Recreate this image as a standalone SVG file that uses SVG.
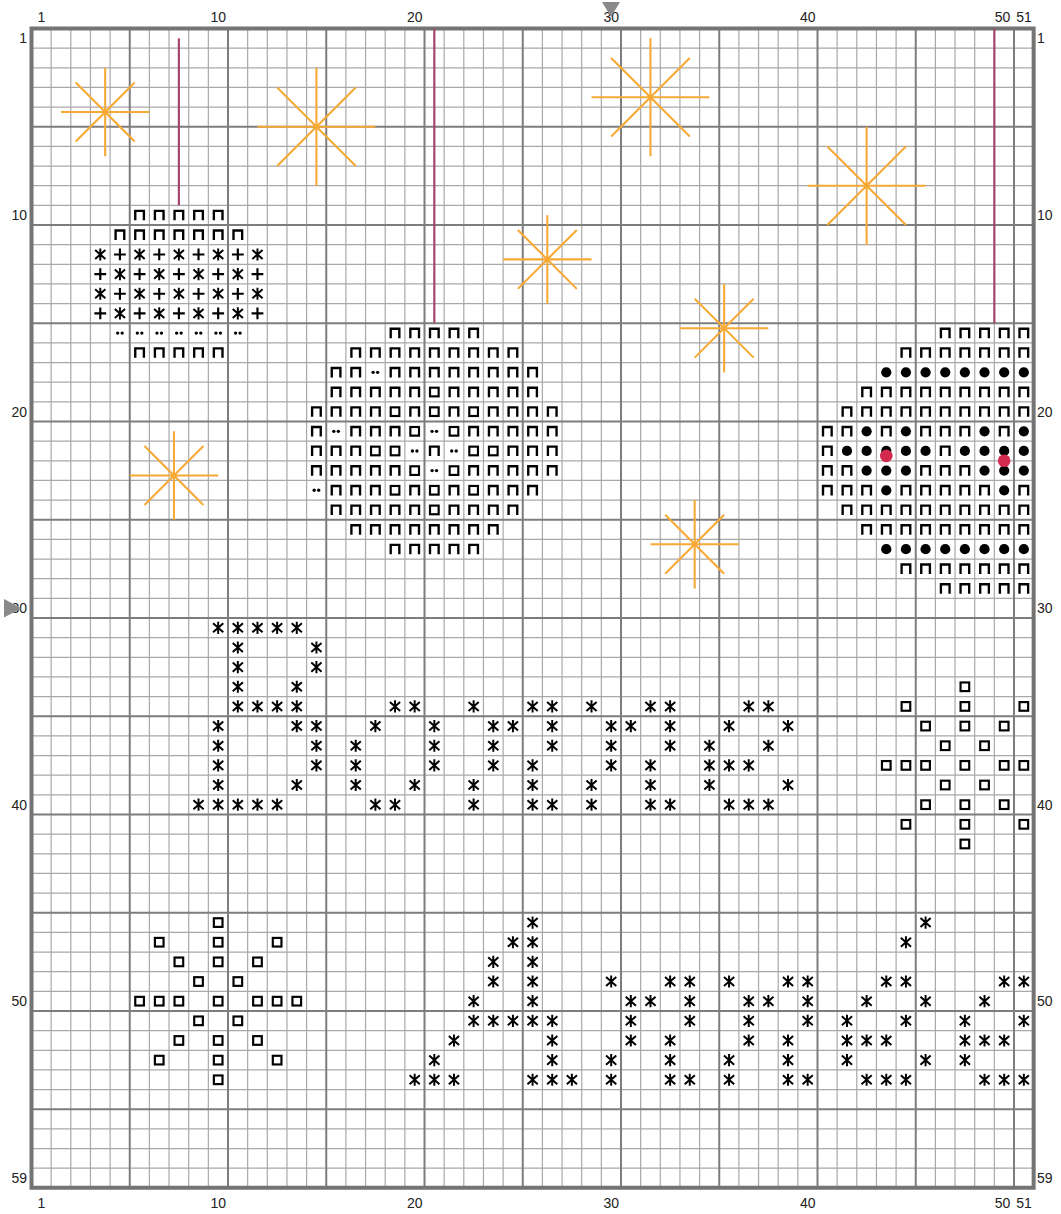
<svg xmlns="http://www.w3.org/2000/svg" xmlns:xlink="http://www.w3.org/1999/xlink" width="1061" height="1214" viewBox="0 0 1061 1214">
<style>
.lbl{font-family:"Liberation Sans",Arial,sans-serif;font-size:14px;fill:#222}
.mn{stroke:#a9a9a9;stroke-width:1.2;fill:none}
.mj{stroke:#7d7d7d;stroke-width:2;fill:none}
.bd{stroke:#747474;stroke-width:4;fill:none}
.st{stroke:#f7a935;stroke-width:0.105;fill:none}
.bs{stroke:#a3446f;stroke-width:0.11;fill:none}
.tri{fill:#8a8a8a}
</style>
<defs>
<path id="q" d="M0.28 0.76V0.28H0.72V0.76" fill="none" stroke="#000" stroke-width="0.12"/>
<rect id="b" x="0.28" y="0.28" width="0.44" height="0.44" fill="none" stroke="#000" stroke-width="0.11"/>
<path id="a" d="M0.5 0.19V0.81M0.24 0.27L0.76 0.73M0.24 0.73L0.76 0.27" fill="none" stroke="#000" stroke-width="0.1"/>
<path id="p" d="M0.2 0.5H0.8M0.5 0.2V0.8" fill="none" stroke="#000" stroke-width="0.11"/>
<g id="d" fill="#000"><circle cx="0.385" cy="0.5" r="0.085"/><circle cx="0.615" cy="0.5" r="0.085"/></g>
<circle id="k" cx="0.5" cy="0.5" r="0.26" fill="#000"/>
<path id="SB" d="M0 -3V3M-3 0H3M-2 -2L2 2M-2 2L2 -2"/>
<path id="SS" d="M0 -2.25V2.25M-2.25 0H2.25M-1.5 -1.5L1.5 1.5M-1.5 1.5L1.5 -1.5"/>
</defs>
<rect width="1061" height="1214" fill="#fff"/>
<g id="labels" class="lbl">
<g text-anchor="middle">
<text x="41.3" y="22">1</text><text x="218.2" y="22">10</text><text x="414.7" y="22">20</text><text x="611.2" y="22">30</text><text x="807.7" y="22">40</text><text x="1002.5" y="22">50</text><text x="1024" y="22">51</text>
<text x="41.3" y="1208">1</text><text x="218.2" y="1208">10</text><text x="414.7" y="1208">20</text><text x="611.2" y="1208">30</text><text x="807.7" y="1208">40</text><text x="1002.5" y="1208">50</text><text x="1024" y="1208">51</text>
</g>
<g text-anchor="end">
<text x="27" y="43.3">1</text><text x="27" y="220.2">10</text><text x="27" y="416.7">20</text><text x="27" y="613.2">30</text><text x="27" y="809.7">40</text><text x="27" y="1006.2">50</text><text x="27" y="1182.9">59</text>
</g>
<g text-anchor="start">
<text x="1037" y="43.3">1</text><text x="1037" y="220.2">10</text><text x="1037" y="416.7">20</text><text x="1037" y="613.2">30</text><text x="1037" y="809.7">40</text><text x="1037" y="1006.2">50</text><text x="1037" y="1182.9">59</text>
</g>
</g>
<g id="chart" transform="translate(11.85 8.85) scale(19.65)">
<g id="grid">
<path class="mn" vector-effect="non-scaling-stroke" d="M2 1V60M3 1V60M4 1V60M5 1V60M7 1V60M8 1V60M9 1V60M10 1V60M12 1V60M13 1V60M14 1V60M15 1V60M17 1V60M18 1V60M19 1V60M20 1V60M22 1V60M23 1V60M24 1V60M25 1V60M27 1V60M28 1V60M29 1V60M30 1V60M32 1V60M33 1V60M34 1V60M35 1V60M37 1V60M38 1V60M39 1V60M40 1V60M42 1V60M43 1V60M44 1V60M45 1V60M47 1V60M48 1V60M49 1V60M50 1V60"/>
<path class="mn" vector-effect="non-scaling-stroke" d="M1 2H52M1 3H52M1 4H52M1 5H52M1 7H52M1 8H52M1 9H52M1 10H52M1 12H52M1 13H52M1 14H52M1 15H52M1 17H52M1 18H52M1 19H52M1 20H52M1 22H52M1 23H52M1 24H52M1 25H52M1 27H52M1 28H52M1 29H52M1 30H52M1 32H52M1 33H52M1 34H52M1 35H52M1 37H52M1 38H52M1 39H52M1 40H52M1 42H52M1 43H52M1 44H52M1 45H52M1 47H52M1 48H52M1 49H52M1 50H52M1 52H52M1 53H52M1 54H52M1 55H52M1 57H52M1 58H52M1 59H52"/>
<path class="mj" vector-effect="non-scaling-stroke" d="M6 1V60M11 1V60M16 1V60M21 1V60M26 1V60M31 1V60M36 1V60M41 1V60M46 1V60M51 1V60M1 6H52M1 11H52M1 16H52M1 21H52M1 26H52M1 31H52M1 36H52M1 41H52M1 46H52M1 51H52M1 56H52"/>
<rect class="bd" vector-effect="non-scaling-stroke" x="1" y="1" width="51" height="59"/>
</g>
<g id="backstitch" class="bs">
<path d="M8.5 1.5V10"/>
<path d="M21.5 1V16"/>
<path d="M50 1V16"/>
</g>
<g id="stars" class="st">
<use href="#SS" x="4.75" y="5.25"/>
<use href="#SB" x="15.5" y="6"/>
<use href="#SB" x="32.5" y="4.5"/>
<use href="#SS" x="27.25" y="12.75"/>
<use href="#SS" x="36.25" y="16.25"/>
<use href="#SB" x="43.5" y="9"/>
<use href="#SS" x="8.25" y="23.75"/>
<use href="#SS" x="34.75" y="27.25"/>
</g>
<g id="block-left">
<use href="#q" x="6" y="10"/><use href="#q" x="7" y="10"/><use href="#q" x="8" y="10"/><use href="#q" x="9" y="10"/><use href="#q" x="10" y="10"/>
<use href="#q" x="5" y="11"/><use href="#q" x="6" y="11"/><use href="#q" x="7" y="11"/><use href="#q" x="8" y="11"/><use href="#q" x="9" y="11"/><use href="#q" x="10" y="11"/><use href="#q" x="11" y="11"/>
<use href="#a" x="4" y="12"/><use href="#p" x="5" y="12"/><use href="#a" x="6" y="12"/><use href="#p" x="7" y="12"/><use href="#a" x="8" y="12"/><use href="#p" x="9" y="12"/><use href="#a" x="10" y="12"/><use href="#p" x="11" y="12"/><use href="#a" x="12" y="12"/>
<use href="#p" x="4" y="13"/><use href="#a" x="5" y="13"/><use href="#p" x="6" y="13"/><use href="#a" x="7" y="13"/><use href="#p" x="8" y="13"/><use href="#a" x="9" y="13"/><use href="#p" x="10" y="13"/><use href="#a" x="11" y="13"/><use href="#p" x="12" y="13"/>
<use href="#a" x="4" y="14"/><use href="#p" x="5" y="14"/><use href="#a" x="6" y="14"/><use href="#p" x="7" y="14"/><use href="#a" x="8" y="14"/><use href="#p" x="9" y="14"/><use href="#a" x="10" y="14"/><use href="#p" x="11" y="14"/><use href="#a" x="12" y="14"/>
<use href="#p" x="4" y="15"/><use href="#a" x="5" y="15"/><use href="#p" x="6" y="15"/><use href="#a" x="7" y="15"/><use href="#p" x="8" y="15"/><use href="#a" x="9" y="15"/><use href="#p" x="10" y="15"/><use href="#a" x="11" y="15"/><use href="#p" x="12" y="15"/>
<use href="#d" x="5" y="16"/><use href="#d" x="6" y="16"/><use href="#d" x="7" y="16"/><use href="#d" x="8" y="16"/><use href="#d" x="9" y="16"/><use href="#d" x="10" y="16"/><use href="#d" x="11" y="16"/>
<use href="#q" x="6" y="17"/><use href="#q" x="7" y="17"/><use href="#q" x="8" y="17"/><use href="#q" x="9" y="17"/><use href="#q" x="10" y="17"/>
</g>
<g id="block-center">
<use href="#q" x="19" y="16"/><use href="#q" x="20" y="16"/><use href="#q" x="21" y="16"/><use href="#q" x="22" y="16"/><use href="#q" x="23" y="16"/>
<use href="#q" x="17" y="17"/><use href="#q" x="18" y="17"/><use href="#q" x="19" y="17"/><use href="#q" x="20" y="17"/><use href="#q" x="21" y="17"/><use href="#q" x="22" y="17"/><use href="#q" x="23" y="17"/><use href="#q" x="24" y="17"/><use href="#q" x="25" y="17"/>
<use href="#q" x="16" y="18"/><use href="#q" x="17" y="18"/><use href="#d" x="18" y="18"/><use href="#q" x="19" y="18"/><use href="#q" x="20" y="18"/><use href="#q" x="21" y="18"/><use href="#q" x="22" y="18"/><use href="#q" x="23" y="18"/><use href="#q" x="24" y="18"/><use href="#q" x="25" y="18"/><use href="#q" x="26" y="18"/>
<use href="#q" x="16" y="19"/><use href="#q" x="17" y="19"/><use href="#q" x="18" y="19"/><use href="#q" x="19" y="19"/><use href="#q" x="20" y="19"/><use href="#b" x="21" y="19"/><use href="#q" x="22" y="19"/><use href="#q" x="23" y="19"/><use href="#q" x="24" y="19"/><use href="#q" x="25" y="19"/><use href="#q" x="26" y="19"/>
<use href="#q" x="15" y="20"/><use href="#q" x="16" y="20"/><use href="#q" x="17" y="20"/><use href="#q" x="18" y="20"/><use href="#b" x="19" y="20"/><use href="#q" x="20" y="20"/><use href="#b" x="21" y="20"/><use href="#q" x="22" y="20"/><use href="#b" x="23" y="20"/><use href="#q" x="24" y="20"/><use href="#q" x="25" y="20"/><use href="#q" x="26" y="20"/><use href="#q" x="27" y="20"/>
<use href="#q" x="15" y="21"/><use href="#d" x="16" y="21"/><use href="#q" x="17" y="21"/><use href="#q" x="18" y="21"/><use href="#q" x="19" y="21"/><use href="#b" x="20" y="21"/><use href="#d" x="21" y="21"/><use href="#b" x="22" y="21"/><use href="#q" x="23" y="21"/><use href="#q" x="24" y="21"/><use href="#q" x="25" y="21"/><use href="#q" x="26" y="21"/><use href="#q" x="27" y="21"/>
<use href="#q" x="15" y="22"/><use href="#q" x="16" y="22"/><use href="#q" x="17" y="22"/><use href="#b" x="18" y="22"/><use href="#b" x="19" y="22"/><use href="#d" x="20" y="22"/><use href="#q" x="21" y="22"/><use href="#d" x="22" y="22"/><use href="#b" x="23" y="22"/><use href="#b" x="24" y="22"/><use href="#q" x="25" y="22"/><use href="#q" x="26" y="22"/><use href="#q" x="27" y="22"/>
<use href="#q" x="15" y="23"/><use href="#q" x="16" y="23"/><use href="#q" x="17" y="23"/><use href="#q" x="18" y="23"/><use href="#q" x="19" y="23"/><use href="#b" x="20" y="23"/><use href="#d" x="21" y="23"/><use href="#b" x="22" y="23"/><use href="#q" x="23" y="23"/><use href="#q" x="24" y="23"/><use href="#q" x="25" y="23"/><use href="#q" x="26" y="23"/><use href="#q" x="27" y="23"/>
<use href="#d" x="15" y="24"/><use href="#q" x="16" y="24"/><use href="#q" x="17" y="24"/><use href="#q" x="18" y="24"/><use href="#b" x="19" y="24"/><use href="#q" x="20" y="24"/><use href="#b" x="21" y="24"/><use href="#q" x="22" y="24"/><use href="#b" x="23" y="24"/><use href="#q" x="24" y="24"/><use href="#q" x="25" y="24"/><use href="#q" x="26" y="24"/>
<use href="#q" x="16" y="25"/><use href="#q" x="17" y="25"/><use href="#q" x="18" y="25"/><use href="#q" x="19" y="25"/><use href="#q" x="20" y="25"/><use href="#b" x="21" y="25"/><use href="#q" x="22" y="25"/><use href="#q" x="23" y="25"/><use href="#q" x="24" y="25"/><use href="#q" x="25" y="25"/>
<use href="#q" x="17" y="26"/><use href="#q" x="18" y="26"/><use href="#q" x="19" y="26"/><use href="#q" x="20" y="26"/><use href="#q" x="21" y="26"/><use href="#q" x="22" y="26"/><use href="#q" x="23" y="26"/><use href="#q" x="24" y="26"/>
<use href="#q" x="19" y="27"/><use href="#q" x="20" y="27"/><use href="#q" x="21" y="27"/><use href="#q" x="22" y="27"/><use href="#q" x="23" y="27"/>
</g>
<g id="block-right">
<use href="#q" x="47" y="16"/><use href="#q" x="48" y="16"/><use href="#q" x="49" y="16"/><use href="#q" x="50" y="16"/><use href="#q" x="51" y="16"/>
<use href="#q" x="45" y="17"/><use href="#q" x="46" y="17"/><use href="#q" x="47" y="17"/><use href="#q" x="48" y="17"/><use href="#q" x="49" y="17"/><use href="#q" x="50" y="17"/><use href="#q" x="51" y="17"/>
<use href="#k" x="44" y="18"/><use href="#k" x="45" y="18"/><use href="#k" x="46" y="18"/><use href="#k" x="47" y="18"/><use href="#k" x="48" y="18"/><use href="#k" x="49" y="18"/><use href="#k" x="50" y="18"/><use href="#k" x="51" y="18"/>
<use href="#q" x="43" y="19"/><use href="#q" x="44" y="19"/><use href="#q" x="45" y="19"/><use href="#q" x="46" y="19"/><use href="#q" x="47" y="19"/><use href="#q" x="48" y="19"/><use href="#q" x="49" y="19"/><use href="#q" x="50" y="19"/><use href="#q" x="51" y="19"/>
<use href="#q" x="42" y="20"/><use href="#q" x="43" y="20"/><use href="#q" x="44" y="20"/><use href="#q" x="45" y="20"/><use href="#q" x="46" y="20"/><use href="#q" x="47" y="20"/><use href="#q" x="48" y="20"/><use href="#q" x="49" y="20"/><use href="#q" x="50" y="20"/><use href="#q" x="51" y="20"/>
<use href="#q" x="41" y="21"/><use href="#q" x="42" y="21"/><use href="#k" x="43" y="21"/><use href="#q" x="44" y="21"/><use href="#k" x="45" y="21"/><use href="#q" x="46" y="21"/><use href="#q" x="47" y="21"/><use href="#q" x="48" y="21"/><use href="#k" x="49" y="21"/><use href="#q" x="50" y="21"/><use href="#k" x="51" y="21"/>
<use href="#q" x="41" y="22"/><use href="#k" x="42" y="22"/><use href="#k" x="43" y="22"/><use href="#k" x="44" y="22"/><use href="#k" x="45" y="22"/><use href="#k" x="46" y="22"/><use href="#q" x="47" y="22"/><use href="#k" x="48" y="22"/><use href="#k" x="49" y="22"/><use href="#k" x="50" y="22"/><use href="#k" x="51" y="22"/>
<use href="#q" x="41" y="23"/><use href="#q" x="42" y="23"/><use href="#k" x="43" y="23"/><use href="#k" x="44" y="23"/><use href="#k" x="45" y="23"/><use href="#q" x="46" y="23"/><use href="#q" x="47" y="23"/><use href="#q" x="48" y="23"/><use href="#k" x="49" y="23"/><use href="#k" x="50" y="23"/><use href="#k" x="51" y="23"/>
<use href="#q" x="41" y="24"/><use href="#q" x="42" y="24"/><use href="#q" x="43" y="24"/><use href="#k" x="44" y="24"/><use href="#q" x="45" y="24"/><use href="#q" x="46" y="24"/><use href="#q" x="47" y="24"/><use href="#q" x="48" y="24"/><use href="#q" x="49" y="24"/><use href="#k" x="50" y="24"/><use href="#q" x="51" y="24"/>
<use href="#q" x="42" y="25"/><use href="#q" x="43" y="25"/><use href="#q" x="44" y="25"/><use href="#q" x="45" y="25"/><use href="#q" x="46" y="25"/><use href="#q" x="47" y="25"/><use href="#q" x="48" y="25"/><use href="#q" x="49" y="25"/><use href="#q" x="50" y="25"/><use href="#q" x="51" y="25"/>
<use href="#q" x="43" y="26"/><use href="#q" x="44" y="26"/><use href="#q" x="45" y="26"/><use href="#q" x="46" y="26"/><use href="#q" x="47" y="26"/><use href="#q" x="48" y="26"/><use href="#q" x="49" y="26"/><use href="#q" x="50" y="26"/><use href="#q" x="51" y="26"/>
<use href="#k" x="44" y="27"/><use href="#k" x="45" y="27"/><use href="#k" x="46" y="27"/><use href="#k" x="47" y="27"/><use href="#k" x="48" y="27"/><use href="#k" x="49" y="27"/><use href="#k" x="50" y="27"/><use href="#k" x="51" y="27"/>
<use href="#q" x="45" y="28"/><use href="#q" x="46" y="28"/><use href="#q" x="47" y="28"/><use href="#q" x="48" y="28"/><use href="#q" x="49" y="28"/><use href="#q" x="50" y="28"/><use href="#q" x="51" y="28"/>
<use href="#q" x="47" y="29"/><use href="#q" x="48" y="29"/><use href="#q" x="49" y="29"/><use href="#q" x="50" y="29"/><use href="#q" x="51" y="29"/>
<circle cx="44.5" cy="22.75" r="0.32" fill="#d42a4f"/>
<circle cx="50.5" cy="23" r="0.32" fill="#d42a4f"/>
</g>
<g id="text-stitches">
<use href="#a" x="10" y="31"/><use href="#a" x="11" y="31"/><use href="#a" x="12" y="31"/><use href="#a" x="13" y="31"/><use href="#a" x="14" y="31"/>
<use href="#a" x="11" y="32"/><use href="#a" x="15" y="32"/>
<use href="#a" x="11" y="33"/><use href="#a" x="15" y="33"/>
<use href="#a" x="11" y="34"/><use href="#a" x="14" y="34"/>
<use href="#a" x="11" y="35"/><use href="#a" x="12" y="35"/><use href="#a" x="13" y="35"/><use href="#a" x="14" y="35"/><use href="#a" x="19" y="35"/><use href="#a" x="20" y="35"/><use href="#a" x="23" y="35"/><use href="#a" x="26" y="35"/><use href="#a" x="27" y="35"/><use href="#a" x="29" y="35"/><use href="#a" x="32" y="35"/><use href="#a" x="33" y="35"/><use href="#a" x="37" y="35"/><use href="#a" x="38" y="35"/>
<use href="#a" x="10" y="36"/><use href="#a" x="14" y="36"/><use href="#a" x="15" y="36"/><use href="#a" x="18" y="36"/><use href="#a" x="21" y="36"/><use href="#a" x="24" y="36"/><use href="#a" x="25" y="36"/><use href="#a" x="27" y="36"/><use href="#a" x="30" y="36"/><use href="#a" x="31" y="36"/><use href="#a" x="33" y="36"/><use href="#a" x="36" y="36"/><use href="#a" x="39" y="36"/>
<use href="#a" x="10" y="37"/><use href="#a" x="15" y="37"/><use href="#a" x="17" y="37"/><use href="#a" x="21" y="37"/><use href="#a" x="24" y="37"/><use href="#a" x="27" y="37"/><use href="#a" x="30" y="37"/><use href="#a" x="33" y="37"/><use href="#a" x="35" y="37"/><use href="#a" x="38" y="37"/>
<use href="#a" x="10" y="38"/><use href="#a" x="15" y="38"/><use href="#a" x="17" y="38"/><use href="#a" x="21" y="38"/><use href="#a" x="24" y="38"/><use href="#a" x="26" y="38"/><use href="#a" x="30" y="38"/><use href="#a" x="32" y="38"/><use href="#a" x="35" y="38"/><use href="#a" x="36" y="38"/><use href="#a" x="37" y="38"/>
<use href="#a" x="10" y="39"/><use href="#a" x="14" y="39"/><use href="#a" x="17" y="39"/><use href="#a" x="20" y="39"/><use href="#a" x="23" y="39"/><use href="#a" x="26" y="39"/><use href="#a" x="29" y="39"/><use href="#a" x="32" y="39"/><use href="#a" x="35" y="39"/><use href="#a" x="39" y="39"/>
<use href="#a" x="9" y="40"/><use href="#a" x="10" y="40"/><use href="#a" x="11" y="40"/><use href="#a" x="12" y="40"/><use href="#a" x="13" y="40"/><use href="#a" x="18" y="40"/><use href="#a" x="19" y="40"/><use href="#a" x="23" y="40"/><use href="#a" x="26" y="40"/><use href="#a" x="27" y="40"/><use href="#a" x="29" y="40"/><use href="#a" x="32" y="40"/><use href="#a" x="33" y="40"/><use href="#a" x="36" y="40"/><use href="#a" x="37" y="40"/><use href="#a" x="38" y="40"/>
</g>
<g id="snowflake-right">
<use href="#b" x="48" y="34"/>
<use href="#b" x="45" y="35"/><use href="#b" x="48" y="35"/><use href="#b" x="51" y="35"/>
<use href="#b" x="46" y="36"/><use href="#b" x="48" y="36"/><use href="#b" x="50" y="36"/>
<use href="#b" x="47" y="37"/><use href="#b" x="49" y="37"/>
<use href="#b" x="44" y="38"/><use href="#b" x="45" y="38"/><use href="#b" x="46" y="38"/><use href="#b" x="48" y="38"/><use href="#b" x="50" y="38"/><use href="#b" x="51" y="38"/>
<use href="#b" x="47" y="39"/><use href="#b" x="49" y="39"/>
<use href="#b" x="46" y="40"/><use href="#b" x="48" y="40"/><use href="#b" x="50" y="40"/>
<use href="#b" x="45" y="41"/><use href="#b" x="48" y="41"/><use href="#b" x="51" y="41"/>
<use href="#b" x="48" y="42"/>
</g>
<g id="snowflake-left">
<use href="#b" x="10" y="46"/>
<use href="#b" x="7" y="47"/><use href="#b" x="10" y="47"/><use href="#b" x="13" y="47"/>
<use href="#b" x="8" y="48"/><use href="#b" x="10" y="48"/><use href="#b" x="12" y="48"/>
<use href="#b" x="9" y="49"/><use href="#b" x="11" y="49"/>
<use href="#b" x="6" y="50"/><use href="#b" x="7" y="50"/><use href="#b" x="8" y="50"/><use href="#b" x="10" y="50"/><use href="#b" x="12" y="50"/><use href="#b" x="13" y="50"/><use href="#b" x="14" y="50"/>
<use href="#b" x="9" y="51"/><use href="#b" x="11" y="51"/>
<use href="#b" x="8" y="52"/><use href="#b" x="10" y="52"/><use href="#b" x="12" y="52"/>
<use href="#b" x="7" y="53"/><use href="#b" x="10" y="53"/><use href="#b" x="13" y="53"/>
<use href="#b" x="10" y="54"/>
</g>
<g id="text-stitches-bottom">
<use href="#a" x="26" y="46"/><use href="#a" x="46" y="46"/>
<use href="#a" x="25" y="47"/><use href="#a" x="26" y="47"/><use href="#a" x="45" y="47"/>
<use href="#a" x="24" y="48"/><use href="#a" x="26" y="48"/>
<use href="#a" x="24" y="49"/><use href="#a" x="26" y="49"/><use href="#a" x="30" y="49"/><use href="#a" x="33" y="49"/><use href="#a" x="34" y="49"/><use href="#a" x="36" y="49"/><use href="#a" x="39" y="49"/><use href="#a" x="40" y="49"/><use href="#a" x="44" y="49"/><use href="#a" x="45" y="49"/><use href="#a" x="50" y="49"/><use href="#a" x="51" y="49"/>
<use href="#a" x="23" y="50"/><use href="#a" x="26" y="50"/><use href="#a" x="31" y="50"/><use href="#a" x="32" y="50"/><use href="#a" x="34" y="50"/><use href="#a" x="37" y="50"/><use href="#a" x="38" y="50"/><use href="#a" x="40" y="50"/><use href="#a" x="43" y="50"/><use href="#a" x="46" y="50"/><use href="#a" x="49" y="50"/>
<use href="#a" x="23" y="51"/><use href="#a" x="24" y="51"/><use href="#a" x="25" y="51"/><use href="#a" x="26" y="51"/><use href="#a" x="27" y="51"/><use href="#a" x="31" y="51"/><use href="#a" x="34" y="51"/><use href="#a" x="37" y="51"/><use href="#a" x="40" y="51"/><use href="#a" x="42" y="51"/><use href="#a" x="45" y="51"/><use href="#a" x="48" y="51"/><use href="#a" x="51" y="51"/>
<use href="#a" x="22" y="52"/><use href="#a" x="27" y="52"/><use href="#a" x="31" y="52"/><use href="#a" x="33" y="52"/><use href="#a" x="37" y="52"/><use href="#a" x="39" y="52"/><use href="#a" x="42" y="52"/><use href="#a" x="43" y="52"/><use href="#a" x="44" y="52"/><use href="#a" x="48" y="52"/><use href="#a" x="49" y="52"/><use href="#a" x="50" y="52"/>
<use href="#a" x="21" y="53"/><use href="#a" x="27" y="53"/><use href="#a" x="30" y="53"/><use href="#a" x="33" y="53"/><use href="#a" x="36" y="53"/><use href="#a" x="39" y="53"/><use href="#a" x="42" y="53"/><use href="#a" x="46" y="53"/><use href="#a" x="48" y="53"/>
<use href="#a" x="20" y="54"/><use href="#a" x="21" y="54"/><use href="#a" x="22" y="54"/><use href="#a" x="26" y="54"/><use href="#a" x="27" y="54"/><use href="#a" x="28" y="54"/><use href="#a" x="30" y="54"/><use href="#a" x="33" y="54"/><use href="#a" x="34" y="54"/><use href="#a" x="36" y="54"/><use href="#a" x="39" y="54"/><use href="#a" x="40" y="54"/><use href="#a" x="43" y="54"/><use href="#a" x="44" y="54"/><use href="#a" x="45" y="54"/><use href="#a" x="49" y="54"/><use href="#a" x="50" y="54"/><use href="#a" x="51" y="54"/>
</g>
</g>
<g id="center-markers">
<polygon class="tri" points="602,2 620,2 611,17"/>
<polygon class="tri" points="4,599 4,617.5 21.5,608.3"/>
</g>
</svg>
